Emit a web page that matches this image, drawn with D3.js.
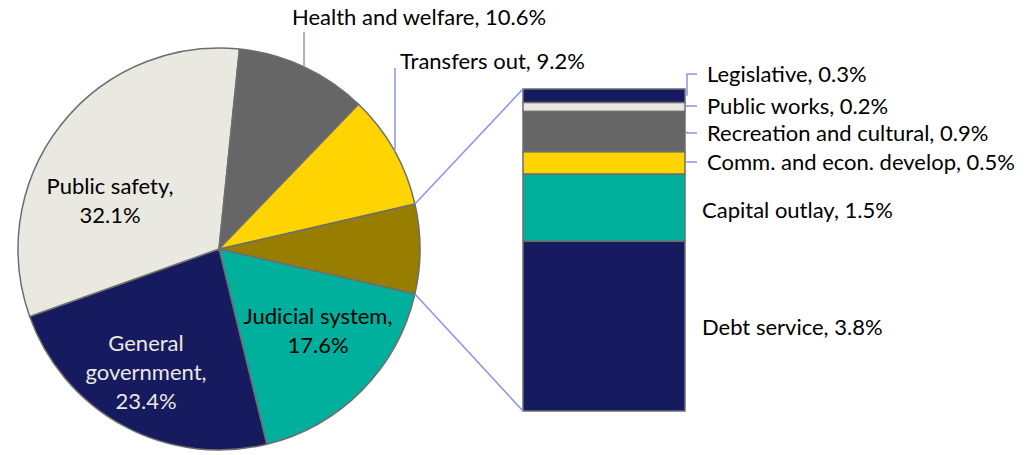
<!DOCTYPE html>
<html>
<head>
<meta charset="utf-8">
<script src="https://cdn.jsdelivr.net/npm/d3@7"></script>
<style>
  body { margin: 0; background: #fff; }
  text { font-family: Lato, "Open Sans", sans-serif; }
</style>
</head>
<body>
<div id="wrapper"></div>
<script>
// pie slices, clockwise from the "other" wedge on the right
const pieNames = ["Other", "Judicial system", "General government", "Public safety", "Health and welfare", "Transfers out"];
const pieValues = [7.2, 17.6, 23.4, 32.1, 10.6, 9.2];
const pieColors = ["#977d00", "#00b09d", "#161a5f", "#e9e8e1", "#666666", "#ffd400"];

// bar of "other", bottom to top
const barNames = ["Debt service", "Capital outlay", "Comm. and econ. develop", "Recreation and cultural", "Public works", "Legislative"];
const barValues = [3.8, 1.5, 0.5, 0.9, 0.2, 0.3];
const barColors = ["#161a5f", "#00b09d", "#ffd400", "#666666", "#e9e8e1", "#161a5f"];

const fmt = v => v.toFixed(1) + "%";

function buildChart() {
    const dimension = { width: 1026, height: 455 };
    const pieCenter = { x: 219, y: 249 };
    const radius = 201;
    const lineColor = "#8d93e6";
    const edgeColor = "#6e6e6e";
    const fontSize = 22;

    const svg = d3.select("#wrapper").append("svg")
        .attr("width", dimension.width)
        .attr("height", dimension.height);

    const total = d3.sum(pieValues);
    const otherSpan = pieValues[0] / total * 2 * Math.PI;
    const start = Math.PI / 2 - otherSpan / 2;

    const pie = d3.pie().sort(null).startAngle(start).endAngle(start + 2 * Math.PI);
    const arcs = pie(pieValues);
    const arc = d3.arc().innerRadius(0).outerRadius(radius);

    const gPie = svg.append("g").attr("transform", `translate(${pieCenter.x},${pieCenter.y})`);
    gPie.selectAll("path")
        .data(arcs)
        .enter()
        .append("path")
        .attr("d", arc)
        .attr("fill", (d, i) => pieColors[i])
        .attr("stroke", edgeColor)
        .attr("stroke-width", 1.5)
        .attr("stroke-linejoin", "round");

    // bar
    const barX = d3.scaleBand().domain(["other"]).range([523, 685]).padding(0);
    const barY = d3.scaleLinear().domain([0, d3.sum(barValues)]).range([411, 89]);
    const stacked = [];
    let acc = 0;
    barValues.forEach((v, i) => { stacked.push({ name: barNames[i], value: v, y0: acc, y1: acc + v, color: barColors[i] }); acc += v; });

    const gBar = svg.append("g");
    gBar.selectAll("rect")
        .data(stacked)
        .enter()
        .append("rect")
        .attr("x", barX("other"))
        .attr("width", barX.bandwidth())
        .attr("y", d => barY(d.y1))
        .attr("height", d => barY(d.y0) - barY(d.y1))
        .attr("fill", d => d.color)
        .attr("stroke", edgeColor)
        .attr("stroke-width", 1.5);

    // connector lines between the other wedge and the bar
    const pt = a => [pieCenter.x + radius * Math.sin(a), pieCenter.y - radius * Math.cos(a)];
    const pTop = pt(arcs[0].startAngle), pBot = pt(arcs[0].endAngle);
    const xl = barX("other");
    svg.append("line").attr("x1", pTop[0]).attr("y1", pTop[1]).attr("x2", xl).attr("y2", barY.range()[1])
        .attr("stroke", lineColor).attr("stroke-width", 1.5);
    svg.append("line").attr("x1", pBot[0]).attr("y1", pBot[1]).attr("x2", xl).attr("y2", barY.range()[0])
        .attr("stroke", lineColor).attr("stroke-width", 1.5);

    // inside pie labels
    const inside = [
        { i: 3, lines: ["Public safety,", fmt(pieValues[3])], x: 110, y: 186, fill: "#000" },
        { i: 2, lines: ["General", "government,", fmt(pieValues[2])], x: 146, y: 343, fill: "#e9e8e1" },
        { i: 1, lines: ["Judicial system,", fmt(pieValues[1])], x: 318, y: 316, fill: "#000" }
    ];
    inside.forEach(l => {
        const t = svg.append("text")
            .attr("text-anchor", "middle")
            .attr("font-size", fontSize)
            .attr("fill", l.fill);
        l.lines.forEach((s, k) => {
            t.append("tspan").attr("x", l.x).attr("y", l.y + k * 29).attr("dy", "0.35em").text(s);
        });
    });

    // outside pie labels with vertical leaders
    const outside = [
        { i: 4, x: 292, y: 17, lineX: 304, lineTop: 32 },
        { i: 5, x: 400, y: 61, lineX: 395, lineTop: 68 }
    ];
    outside.forEach(l => {
        svg.append("text")
            .attr("x", l.x).attr("y", l.y).attr("dy", "0.35em")
            .attr("font-size", fontSize)
            .text(pieNames[l.i] + ", " + fmt(pieValues[l.i]));
        const dx = l.lineX - pieCenter.x;
        const edgeY = pieCenter.y - Math.sqrt(radius * radius - dx * dx);
        svg.append("line")
            .attr("x1", l.lineX).attr("x2", l.lineX)
            .attr("y1", l.lineTop).attr("y2", edgeY)
            .attr("stroke", lineColor).attr("stroke-width", 1.5);
    });

    // bar labels
    const xr = barX("other") + barX.bandwidth();
    const barLabelY = { "Legislative": 74, "Public works": 106, "Recreation and cultural": 133,
        "Comm. and econ. develop": 162, "Capital outlay": 210, "Debt service": 327 };
    const leader = { "Legislative": true, "Public works": true, "Recreation and cultural": true, "Comm. and econ. develop": true };
    stacked.forEach(d => {
        const mid = barY((d.y0 + d.y1) / 2);
        const ty = barLabelY[d.name];
        const hasLeader = leader[d.name];
        svg.append("text")
            .attr("x", hasLeader ? xr + 22 : xr + 17)
            .attr("y", ty).attr("dy", "0.35em")
            .attr("font-size", fontSize)
            .text(d.name + ", " + fmt(d.value));
        if (hasLeader) {
            svg.append("path")
                .attr("d", `M${xr + 12},${ty} H${xr + 2} V${mid}`)
                .attr("fill", "none")
                .attr("stroke", lineColor).attr("stroke-width", 1.5);
        }
    });
}

buildChart();
</script>
</body>
</html>
